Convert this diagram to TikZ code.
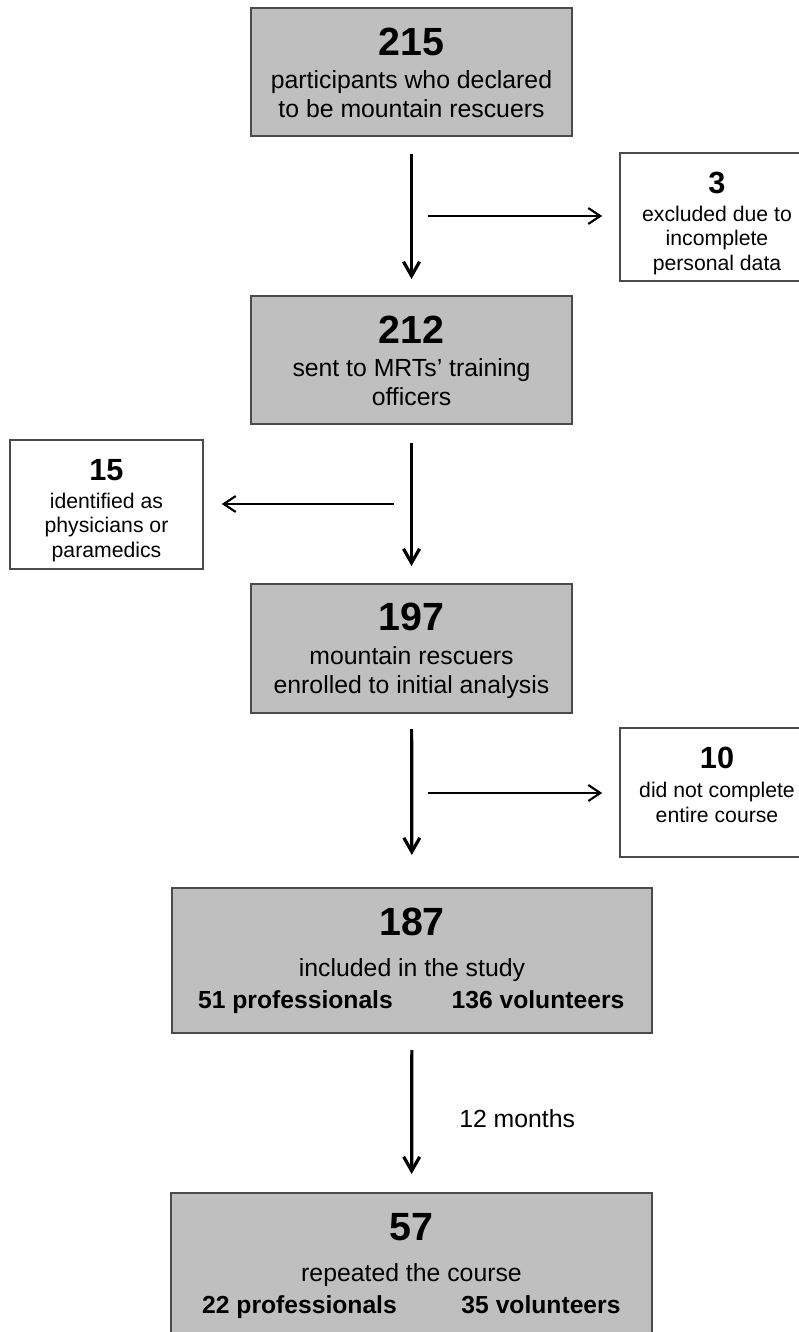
\documentclass[tikz,border=0pt]{standalone}
\usepackage{fontspec}
\setmainfont{Liberation Sans}
\usetikzlibrary{arrows.meta}
\definecolor{boxgray}{RGB}{191,191,191}
\definecolor{edgegray}{RGB}{75,75,75}
\newcommand{\bignum}{\fontsize{29.5}{30}\selectfont\bfseries}
\newcommand{\midnum}{\fontsize{23}{24}\selectfont\bfseries}
\newcommand{\bodytext}{\fontsize{18.6}{21.5}\selectfont}
\newcommand{\smalltext}{\fontsize{15.9}{18.3}\selectfont}
\newcommand{\boldtext}{\fontsize{18.5}{20}\selectfont\bfseries}
\begin{document}
\begin{tikzpicture}[x=0.75pt,y=-0.75pt,
  mainbox/.style={draw=edgegray, fill=boxgray, line width=1.5pt, inner sep=0pt},
  sidebox/.style={draw=edgegray, fill=white, line width=1.2pt, inner sep=0pt},
  txt/.style={anchor=base, inner sep=0pt, align=center},
  mainarrow/.style={line width=2.4pt, -{Straight Barb[length=10.5pt,width=12pt]}},
  sidearrow/.style={line width=1.6pt, -{Straight Barb[length=9pt,width=12pt]}}]
\useasboundingbox (0,0) rectangle (799,1332);
\clip (0,0) rectangle (799,1332);

% main column (multi-line texts are anchored at the baseline of their last line)
\node[mainbox, minimum width=240.75pt, minimum height=96pt] (b1) at (411.5,72) {};
\node[txt, font=\bignum] (n1) at (411.5,55) {215};
\node[txt, font=\bodytext] (t1) at (411.5,117) {participants who declared\\to be mountain rescuers};

\node[mainbox, minimum width=240.75pt, minimum height=96pt] (b2) at (411.5,360) {};
\node[txt, font=\bignum] (n2) at (411.5,343) {212};
\node[txt, font=\bodytext] (t2) at (411.5,405) {sent to MRTs’ training\\officers};

\node[mainbox, minimum width=240.75pt, minimum height=96.75pt] (b3) at (411.5,648.5) {};
\node[txt, font=\bignum] (n3) at (411.5,630) {197};
\node[txt, font=\bodytext] (t3) at (411.5,693) {mountain rescuers\\enrolled to initial analysis};

\node[mainbox, minimum width=360pt, minimum height=108.75pt] (b4) at (412,960.5) {};
\node[txt, font=\bignum] (n4) at (412,935) {187};
\node[txt, font=\bodytext] (t4) at (412,976) {included in the study};
\node[txt, font=\boldtext] (p4) at (295.5,1008) {51 professionals};
\node[txt, font=\boldtext] (v4) at (538,1008) {136 volunteers};

\node[mainbox, minimum width=360.75pt, minimum height=110.25pt] (b5) at (411.5,1266.5) {};
\node[txt, font=\bignum] (n5) at (411.5,1240) {57};
\node[txt, font=\bodytext] (t5) at (411.5,1281) {repeated the course};
\node[txt, font=\boldtext] (p5) at (299.5,1313) {22 professionals};
\node[txt, font=\boldtext] (v5) at (541,1313) {35 volunteers};

% side boxes
\node[sidebox, minimum width=145.5pt, minimum height=96pt] (s1) at (717,217) {};
\node[txt, font=\midnum] (sn1) at (717,193) {3};
\node[txt, font=\smalltext] (st1) at (717,270) {excluded due to\\incomplete\\personal data};

\node[sidebox, minimum width=144.75pt, minimum height=96.75pt] (s2) at (106.5,504.5) {};
\node[txt, font=\midnum] (sn2) at (106.5,480) {15};
\node[txt, font=\smalltext] (st2) at (106.5,557) {identified as\\physicians or\\paramedics};

\node[sidebox, minimum width=145.5pt, minimum height=96.75pt] (s3) at (717,792.5) {};
\node[txt, font=\midnum] (sn3) at (717,768) {10};
\node[txt, font=\smalltext] (st3) at (717,822) {did not complete\\entire course};

% main arrows
\draw[mainarrow, shorten <=12.75pt, shorten >=12pt] (b1) -- (b2);
\draw[mainarrow, shorten <=13.5pt, shorten >=12.75pt] (b2) -- (b3);
\draw[mainarrow, shorten <=11.25pt, shorten >=24pt] (b3) -- (b4);
\draw[mainarrow, shorten <=12pt, shorten >=13.5pt] (b4) -- (b5);
\node[anchor=base west, inner sep=0pt, font=\bodytext] (lbl) at (459,1127) {12 months};

% side arrows
\coordinate (j1) at (428,216);
\draw[sidearrow, shorten >=12.75pt] (j1) -- (j1 -| s1.west);
\coordinate (j2) at (394,504);
\draw[sidearrow, shorten >=13.5pt] (j2) -- (j2 -| s2.east);
\coordinate (j3) at (428,793);
\draw[sidearrow, shorten >=12.75pt] (j3) -- (j3 -| s3.west);
\end{tikzpicture}
\end{document}
